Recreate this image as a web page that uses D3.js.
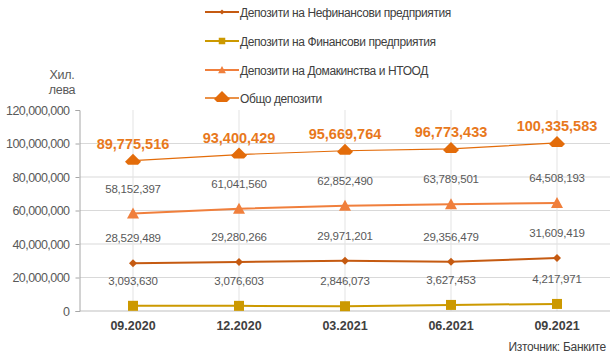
<!DOCTYPE html>
<html><head><meta charset="utf-8">
<script src="https://cdn.jsdelivr.net/npm/d3@7"></script>
<style>body{margin:0;background:#fff;}svg{display:block;font-family:"Liberation Sans",Arial,sans-serif;}</style>
</head><body><svg id="c" width="612" height="358"></svg>
<script>
const categories = ["09.2020","12.2020","03.2021","06.2021","09.2021"];
const nefin = [28529489,29280266,29971201,29356479,31609419];
const fin = [3093630,3076603,2846073,3627453,4217971];
const domak = [58152397,61041560,62852490,63789501,64508193];
const total = [89775516,93400429,95669764,96773433,100335583];
const yTicks = [0,20000000,40000000,60000000,80000000,100000000,120000000];
const seriesNames = ["Депозити на Нефинансови предприятия","Депозити на Финансови предприятия","Депозити на Домакинства и НТООД","Общо депозити"];

const svg = d3.select("#c");
const x = d3.scaleBand().domain(categories).range([80,610]);
const cx = d => x(d) + x.bandwidth()/2;
const y = d3.scaleLinear().domain([0,120000000]).range([311,110]);
const fmt = d3.format(",");

// gridlines
svg.append("g").selectAll("line").data(yTicks.filter(t=>t>0 && t<120000000)).join("line")
  .attr("x1",80).attr("x2",610).attr("y1",d=>y(d)).attr("y2",d=>y(d))
  .attr("stroke","#d9d9d9").attr("stroke-width",1);
svg.append("g").selectAll("line").data(categories).join("line")
  .attr("x1",d=>cx(d)).attr("x2",d=>cx(d)).attr("y1",110).attr("y2",311)
  .attr("stroke","#e3e3e3").attr("stroke-width",1);
svg.append("line").attr("x1",80).attr("x2",610).attr("y1",y(0)).attr("y2",y(0)).attr("stroke","#bfbfbf");

// y axis
const yAxis = d3.axisLeft(y).tickValues(yTicks).tickFormat(d=>fmt(d)).tickSize(4).tickPadding(6);
const ga = svg.append("g").attr("transform","translate(79.5,0)").call(yAxis);
ga.select(".domain").attr("stroke","#a6a6a6");
ga.selectAll(".tick line").attr("stroke","#a6a6a6");
ga.selectAll("text").attr("fill","#595959").style("font-size","12.5px").style("letter-spacing","-0.55px").style("font-family","Liberation Sans, Arial, sans-serif");

// x labels
const gx = d3.axisBottom(x).tickSize(0).tickPadding(10);
const gxa = svg.append("g").attr("transform","translate(0,311)").call(gx);
gxa.select(".domain").remove();
gxa.selectAll("text").attr("fill","#404040").style("font-size","12.5px").style("font-weight","bold").style("font-family","Liberation Sans, Arial, sans-serif");

svg.append("text").attr("x",62).attr("y",79).attr("text-anchor","middle").attr("fill","#595959").style("font-size","12.5px").style("letter-spacing","-0.3px").text("Хил.");
svg.append("text").attr("x",62).attr("y",94).attr("text-anchor","middle").attr("fill","#595959").style("font-size","12.5px").style("letter-spacing","-0.3px").text("лева");

const series = [
  {vals:nefin, color:"#C55A11", shape:"diamondSmall"},
  {vals:fin, color:"#CC9900", shape:"square"},
  {vals:domak, color:"#F07F3C", shape:"triangle"},
  {vals:total, color:"#E36C0A", shape:"bigdiamond"}
];
function marker(g, shape, color, k){
  k = k || 1;
  if(shape==="diamondSmall") g.append("path").attr("d","M0,-4L4,0L0,4L-4,0Z").attr("fill",color).attr("transform",`scale(${k})`);
  else if(shape==="square") g.append("rect").attr("x",-5).attr("y",-5).attr("width",10).attr("height",10).attr("fill",color).attr("transform",`scale(${k})`);
  else if(shape==="triangle") g.append("path").attr("d","M0,-6L6,5L-6,5Z").attr("fill",color).attr("transform",`scale(${k})`);
  else g.append("path").attr("d","M0,-7L8,1L5,4L-5,4L-8,1Z").attr("fill",color).attr("transform",`scale(${k})`);
}
const line = d3.line().x((d,i)=>cx(categories[i])).y(d=>y(d));
series.forEach(s=>{
  svg.append("path").datum(s.vals).attr("d",line).attr("fill","none").attr("stroke",s.color).attr("stroke-width", s.shape==="bigdiamond"?1.2:2);
  s.vals.forEach((v,i)=>{
    const g = svg.append("g").attr("transform",`translate(${cx(categories[i])},${y(v)})`);
    marker(g,s.shape,s.color);
  });
});

function labels(vals, dy, opts){
  svg.append("g").selectAll("text").data(vals).join("text")
    .attr("x",(d,i)=>cx(categories[i])).attr("y",d=>y(d)+dy)
    .attr("text-anchor","middle").attr("fill",opts.color)
    .style("font-size",opts.size).style("font-weight",opts.weight||"normal")
    .style("letter-spacing",opts.ls||"0px")
    .text(d=>fmt(d));
}
labels(fin, -21, {color:"#595959", size:"11.5px", ls:"-0.2px"});
labels(nefin, -21, {color:"#595959", size:"11.5px", ls:"-0.2px"});
labels(domak, -21, {color:"#595959", size:"11.5px", ls:"-0.2px"});
labels(total, -12, {color:"#E8781C", size:"14.5px", weight:"bold"});

// legend
const legY = [12,41,70,98];
series.forEach((s,i)=>{
  const ly = legY[i];
  svg.append("line").attr("x1",205).attr("x2",239).attr("y1",ly).attr("y2",ly).attr("stroke",s.color).attr("stroke-width",s.shape==="bigdiamond"?1.5:2);
  const g = svg.append("g").attr("transform",`translate(222,${ly})`);
  marker(g,s.shape,s.color, s.shape==="bigdiamond"?1:0.65);
  svg.append("text").attr("x",240).attr("y",ly+4.5).attr("fill","#404040").style("font-size","12px").style("letter-spacing","-0.4px").text(seriesNames[i]);
});

svg.append("text").attr("x",606).attr("y",351).attr("text-anchor","end").attr("fill","#404040").style("font-size","12px").style("letter-spacing","-0.3px").text("Източник: Банките");
</script></body></html>
